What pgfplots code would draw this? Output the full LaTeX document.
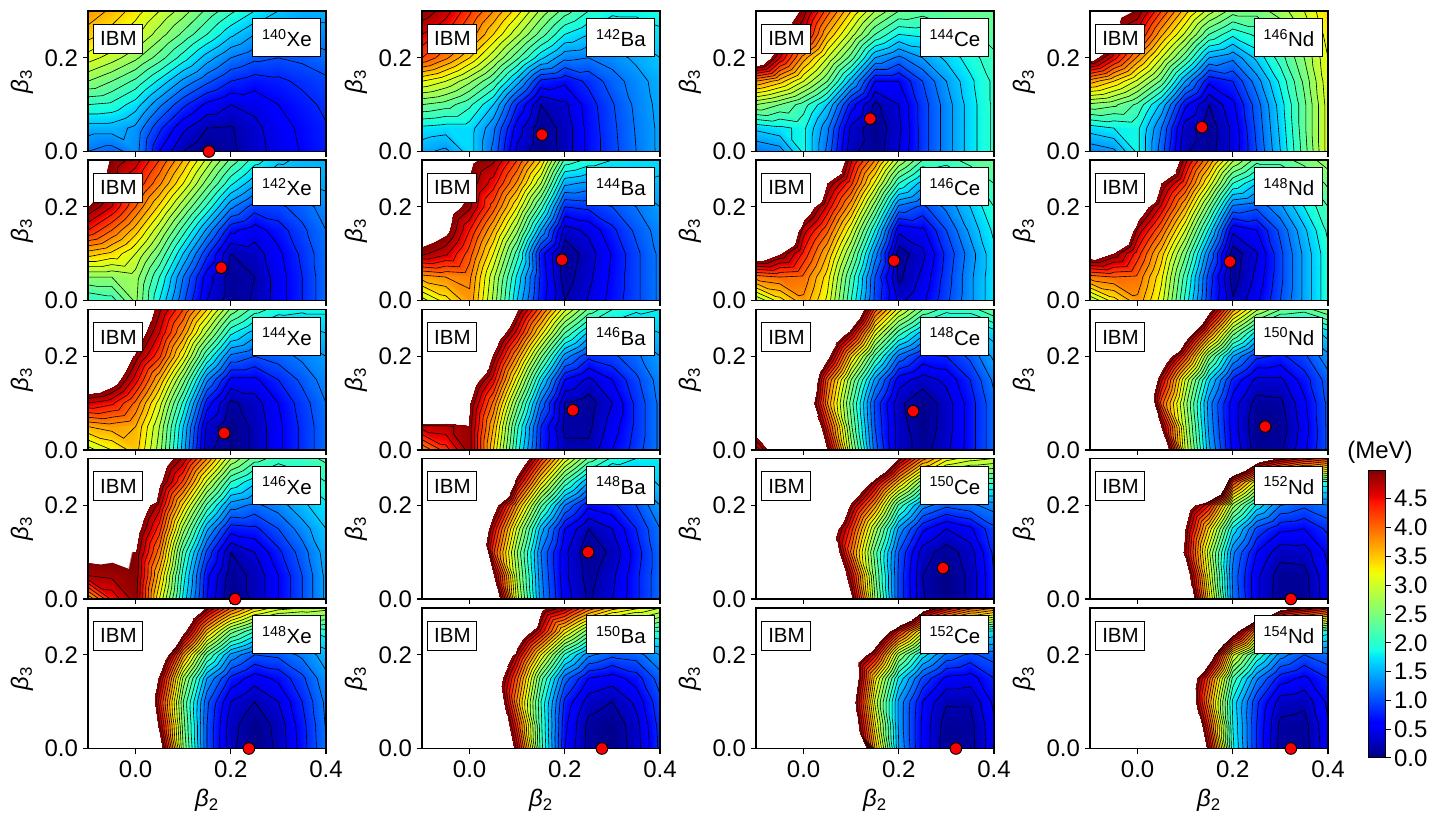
\documentclass[border=0pt]{standalone}
\usepackage{fontspec}
\setmainfont{Liberation Sans}
\usepackage{pgfplots}
\pgfplotsset{compat=1.18}
\newcommand\tfs{\fontsize{24}{28}\selectfont}
\newcommand\bfs{\fontsize{20.5}{24}\selectfont}
\tikzset{lab/.style={draw=black, line width=1pt, fill=white, inner sep=0pt, font=\bfs}}
% jet over 0..5 MeV, white above
\pgfplotsset{
  colormap={jetw}{rgb(0pt)=(0,0,.5); rgb(55pt)=(0,0,1); rgb(62.5pt)=(0,0,1); rgb(170pt)=(0,.86,1);
    rgb(175pt)=(0,.9,.97); rgb(187.5pt)=(.08,1,.89); rgb(320pt)=(.935,1,.03); rgb(325pt)=(.97,.96,0);
    rgb(330pt)=(1,.93,0); rgb(445pt)=(1,.07,0); rgb(455pt)=(.91,0,0); rgb(500pt)=(.5,0,0);
    rgb(501pt)=(1,1,1); rgb(1000pt)=(1,1,1)},
  colormap name=jetw,
  base/.style={scale only axis, width=238pt, height=140.5pt, xmin=-.1, xmax=.4, ymin=0, ymax=.3,
    anchor=south west},
  panel/.style={base, axis on top, axis line style={line width=1.2pt},
    xtick={0,.2,.4}, ytick={0,.2}, yticklabels={0.0,0.2}, xticklabels={},
    tick align=outside, xtick pos=bottom, ytick pos=left,
    major tick length=5.5pt, tick style={black, line width=1.2pt},
    tick label style={font=\tfs}, xticklabel style={yshift=-3pt}, yticklabel style={xshift=-1pt},
    ylabel={\textit{β}\textsubscript{3}},
    every axis y label/.style={at={(rel axis cs:0,.5)}, xshift=-66pt, rotate=90, anchor=center, font=\tfs},
    point meta min=0, point meta max=10, unbounded coords=jump,
    filter discard warning=false},
  bottomrow/.style={xticklabels={0.0,0.2,0.4}, xlabel={\textit{β}\textsubscript{2}},
    every axis x label/.style={at={(rel axis cs:.5,0)}, yshift=-52pt, anchor=center, font=\tfs}},
}
\makeatletter
\newcount\gi \newcount\gj \newcount\gk \newcount\gn
% the grid: 7 rows (beta3 = 0 ... 0.3) of 11 values (beta2 = -0.1 ... 0.4), in MeV
\def\readgrid#1{\gn=0 \@for\v:=#1\do{\expandafter\xdef\csname zz\the\gn\endcsname{\number\dimexpr\v pt\relax}\global\advance\gn1 }}
\def\zv#1#2{\csname zz\number\numexpr#2*11+#1\endcsname}
\def\buildsurf{\def\surfS{}\gj=0 \surfrow}
\def\surfrow{\ifnum\gj<7 \gi=0 \surfcol \advance\gj1 \expandafter\surfrow\fi}
\def\surfcol{\ifnum\gi<11
  \edef\surfS{\surfS(\strip@pt\dimexpr\numexpr3277*\gi-6554\relax sp\relax,\strip@pt\dimexpr\numexpr3277*\gj\relax sp\relax) [\strip@pt\dimexpr\zv\gi\gj sp\relax] }%
  \advance\gi1 \expandafter\surfcol\fi}
% contour levels every 0.2 MeV, found on two triangles per grid cell
\def\cross#1#2#3#4#5#6{\edef\tS{\tS(\strip@pt\dimexpr\numexpr#2+(#5-#2)*(\L-#1)/(#4-#1)\relax sp\relax,\strip@pt\dimexpr\numexpr#3+(#6-#3)*(\L-#1)/(#4-#1)\relax sp\relax) }}
\def\edge#1#2#3#4#5#6{\ifnum#1>\L\relax\ifnum#4>\L\relax\else\cross{#1}{#2}{#3}{#4}{#5}{#6}\fi\else\ifnum#4>\L\relax\cross{#1}{#2}{#3}{#4}{#5}{#6}\fi\fi}
\def\tri#1#2#3#4#5#6#7#8#9{\def\tS{}\edge{#1}{#2}{#3}{#4}{#5}{#6}\edge{#4}{#5}{#6}{#7}{#8}{#9}\edge{#7}{#8}{#9}{#1}{#2}{#3}%
  \ifx\tS\empty\else\edef\cellS{\cellS\tS(nan,nan) }\fi}
\def\levels{\ifnum\gk<25 \edef\L{\number\dimexpr.2pt*\gk\relax}%
  \tri\va\xo\yo\vb\xp\yo\vc\xo\yp
  \tri\vb\xp\yo\vd\xp\yp\vc\xo\yp
  \advance\gk1 \expandafter\levels\fi}
\def\cells{\ifnum\gi<10
  \edef\va{\zv{\gi}{\gj}}\edef\vb{\zv{\numexpr\gi+1\relax}{\gj}}\edef\vc{\zv{\gi}{\numexpr\gj+1\relax}}\edef\vd{\zv{\numexpr\gi+1\relax}{\numexpr\gj+1\relax}}%
  \edef\xo{\number\numexpr3277*\gi-6554\relax}\edef\xp{\number\numexpr3277*\gi-3277\relax}%
  \def\cellS{}\gk=1 \levels \edef\rowS{\rowS\cellS}%
  \advance\gi1 \expandafter\cells\fi}
\def\rowsl{\ifnum\gj<6 \edef\yo{\number\numexpr3277*\gj\relax}\edef\yp{\number\numexpr3277*\gj+3277\relax}%
  \def\rowS{}\gi=0 \cells \edef\contS{\contS\rowS}\advance\gj1 \expandafter\rowsl\fi}
\def\buildcont{\def\contS{}\gj=0 \rowsl}
\makeatother
% x, y of the axis corner, mass number, element, minimum, grid
\newcommand\panel[6]{%
  \readgrid{#6}\buildsurf\buildcont
  \ifdim#2pt<100pt \pgfplotsset{thisrow/.style={bottomrow}}\else\pgfplotsset{thisrow/.style={}}\fi
  \begin{axis}[panel, at={(#1pt,#2pt)}, thisrow]
    \edef\next{\noexpand\addplot[surf, shader=interp, mesh/rows=7, point meta=explicit, forget plot] coordinates {\surfS};}\next
    \edef\next{\noexpand\addplot[black, line width=.6pt, no markers, forget plot] coordinates {\contS};}\next
  \end{axis}
  \begin{axis}[base, at={(#1pt,#2pt)}, hide axis, clip=false]
    \addplot[only marks, mark=*, mark size=5.8pt, mark options={fill=red, draw=black, line width=1pt}] coordinates {(#5)};
    \node[lab, minimum width=49pt, minimum height=29pt] at (rel axis cs:.128,.804) {IBM};
    \node[lab, minimum width=68pt, minimum height=38pt] at (rel axis cs:.836,.808) {\textsuperscript{#3}#4};
  \end{axis}}
\begin{document}
\begin{tikzpicture}[x=1pt,y=1pt]
\useasboundingbox (0,0) rectangle (1438,825);
\panel{88}{673.5}{140}{Xe}{.154,0}{
1.2,1.1,1.3,.6,.2,.02,.15,.33,.47,.62,.75,
1.5,1.5,1.35,.85,.45,.2,.18,.35,.5,.65,.78,
2.0,1.95,1.7,1.25,.85,.55,.4,.45,.6,.72,.85,
2.6,2.4,2.15,1.75,1.35,1.05,.8,.7,.75,.85,.95,
3.1,2.9,2.65,2.3,1.9,1.5,1.2,1.05,1.0,1.05,1.15,
3.5,3.3,3.05,2.7,2.35,2.0,1.65,1.4,1.25,1.25,1.3,
3.75,3.55,3.3,3.0,2.7,2.35,2.05,1.8,1.6,1.5,1.5}
\panel{422}{673.5}{142}{Ba}{.152,.036}{
1.45,1.35,1.7,1.15,.35,.05,.27,.67,.93,1.2,1.45,
1.75,1.7,1.7,1.25,.5,.07,.27,.67,.95,1.22,1.45,
2.4,2.3,2.05,1.6,.8,.2,.35,.7,.98,1.25,1.47,
3.2,3.0,2.65,2.2,1.5,.75,.65,.85,1.1,1.3,1.5,
4.2,3.85,3.4,2.85,2.25,1.65,1.25,1.2,1.3,1.45,1.6,
4.6,4.4,3.95,3.4,2.85,2.3,1.8,1.6,1.6,1.65,1.75,
4.95,4.7,4.25,3.8,3.3,2.75,2.3,2.0,1.85,1.85,1.9}
\panel{756}{673.5}{144}{Ce}{.14,.07}{
1.2,1.3,1.85,1.15,.25,.08,.4,.9,1.3,1.7,2.05,
1.65,1.75,1.85,1.25,.35,.05,.35,.9,1.3,1.7,2.05,
2.6,2.4,2.1,1.6,.7,.15,.4,.9,1.3,1.7,2.05,
3.8,3.5,3.0,2.4,1.5,.6,.6,1.0,1.4,1.75,2.05,
5.6,4.6,3.7,3.0,2.3,1.4,1.15,1.4,1.65,1.9,2.15,
6.3,5.1,4.6,3.6,2.9,2.2,1.8,1.85,2.0,2.15,2.3,
6.5,5.4,4.9,4.1,3.4,2.8,2.4,2.3,2.35,2.4,2.35}
\panel{1090}{673.5}{146}{Nd}{.135,.052}{
1.25,1.35,1.85,1.1,.22,.1,.45,1.0,1.6,2.3,3.1,
1.7,1.8,1.85,1.2,.3,.07,.45,1.05,1.65,2.35,3.1,
2.55,2.45,2.15,1.55,.65,.2,.55,1.1,1.7,2.35,3.1,
3.7,3.4,2.95,2.35,1.4,.65,.8,1.3,1.85,2.45,3.15,
5.2,4.5,3.75,3.0,2.25,1.4,1.25,1.65,2.1,2.6,3.2,
6.2,5.1,4.5,3.65,2.95,2.2,1.85,2.05,2.4,2.8,3.3,
6.4,5.2,4.95,4.2,3.5,2.9,2.5,2.5,2.7,3.0,3.4}
\panel{88}{524.5}{142}{Xe}{.18,.07}{
2.0,2.1,2.65,1.8,1.05,.4,.1,.22,.5,.8,1.15,
2.6,2.6,2.7,2.0,1.2,.5,.1,.2,.5,.8,1.15,
3.5,3.35,3.0,2.4,1.6,.85,.2,.3,.55,.85,1.15,
4.4,4.0,3.5,2.85,2.1,1.35,.65,.5,.7,.95,1.2,
5.0,4.6,4.0,3.35,2.65,1.95,1.25,.9,.95,1.1,1.3,
5.35,4.85,4.4,3.85,3.2,2.5,1.85,1.45,1.35,1.4,1.45,
5.4,4.95,4.7,4.2,3.6,2.95,2.35,1.9,1.65,1.55,1.5}
\panel{422}{524.5}{144}{Ba}{.194,.087}{
2.9,3.3,3.75,2.75,1.6,.7,.2,.42,.68,.95,1.25,
3.7,3.8,3.85,2.85,1.75,.75,.1,.35,.65,.95,1.25,
4.85,4.65,4.1,3.2,2.1,.7,.05,.3,.62,.95,1.25,
5.35,5.1,4.4,3.6,2.65,1.4,.3,.45,.75,1.05,1.3,
6.5,5.25,4.85,4.1,3.2,2.1,.8,.85,1.0,1.2,1.4,
7.5,5.5,4.95,4.5,3.75,2.8,1.45,1.35,1.35,1.45,1.55,
8.5,5.6,5.08,4.85,4.2,3.4,2.15,1.95,1.8,1.75,1.7}
\panel{756}{524.5}{146}{Ce}{.19,.085}{
2.8,3.3,3.75,3.15,2.0,.95,.35,.55,.95,1.35,1.75,
3.9,4.0,3.95,3.3,2.15,1.0,.15,.45,.9,1.35,1.75,
5.4,5.0,4.35,3.6,2.55,1.3,.08,.35,.85,1.3,1.75,
6.8,6.0,4.7,4.05,3.05,1.8,.45,.55,1.0,1.45,1.85,
8,7,5.35,4.55,3.65,2.45,1.15,.95,1.25,1.6,2.0,
9,8,6.5,5.0,4.25,3.15,2.0,1.5,1.65,1.9,2.2,
9,9,8,6,4.65,3.8,2.8,2.2,2.1,2.3,2.4}
\panel{1090}{524.5}{148}{Nd}{.194,.083}{
2.8,3.3,3.75,3.1,1.95,.85,.22,.55,1.0,1.45,1.95,
3.9,4.0,3.95,3.25,2.1,.9,.1,.45,.95,1.45,1.95,
5.3,4.95,4.3,3.5,2.45,1.2,.08,.38,.95,1.45,1.95,
6.8,6.0,4.75,4.0,3.0,1.75,.45,.6,1.05,1.55,2.05,
8,7,5.35,4.55,3.6,2.4,1.15,1.05,1.35,1.8,2.2,
9,8,6.5,5.0,4.25,3.15,2.0,1.6,1.8,2.1,2.45,
9,9,8,6,4.7,3.8,2.85,2.3,2.3,2.5,2.7}
\panel{88}{375}{144}{Xe}{.186,.036}{
2.9,3.2,3.5,2.7,1.5,.25,.05,.25,.55,.85,1.15,
3.6,3.7,3.6,2.8,1.6,.35,.03,.25,.55,.85,1.15,
4.6,4.45,3.95,3.1,1.95,.7,.15,.3,.6,.9,1.2,
5.6,5.24,4.5,3.6,2.5,1.25,.55,.55,.8,1.05,1.3,
6.5,5.7,4.9,4.25,3.2,2.0,1.15,1.0,1.1,1.25,1.4,
7.5,6.6,5.28,4.6,3.75,2.75,1.85,1.5,1.45,1.5,1.6,
8.5,7.5,5.6,4.85,4.2,3.4,2.55,2.1,1.9,1.85,1.85}
\panel{422}{375}{146}{Ba}{.217,.085}{
3.8,4.3,4.9,3.4,1.9,.75,.25,.25,.6,.9,1.25,
4.7,4.75,4.9,3.6,2.05,.8,.15,.15,.5,.85,1.25,
6.6,6.3,5.0,3.95,2.5,1.15,.2,.1,.4,.85,1.25,
7.5,6.5,5.33,4.5,3.1,1.7,.6,.35,.6,.95,1.3,
8.5,7.5,6.2,4.95,3.75,2.45,1.3,.85,.95,1.15,1.4,
9,8.5,7.2,5.5,4.5,3.3,2.2,1.55,1.4,1.45,1.6,
9,9,8,6.2,5.05,4.05,3.05,2.35,2.0,1.85,1.8}
\panel{756}{375}{148}{Ce}{.23,.083}{
4.4,5.6,7.3,5.0,2.7,1.1,.3,.12,.35,.7,1.15,
5.4,6.2,6.7,4.4,2.45,1.0,.3,.05,.3,.7,1.15,
7,7,5.87,3.8,2.3,.95,.25,.05,.3,.7,1.15,
8,7.5,6.3,4.05,2.6,1.35,.5,.3,.45,.8,1.25,
9,8.5,7,5.17,3.45,2.15,1.15,.75,.8,1.05,1.45,
9,9,8,6,4.75,3.1,2.1,1.5,1.35,1.5,1.7,
9,9,9,8,6.05,4.1,3.1,2.4,2.1,2.1,2.4}
\panel{1090}{375}{150}{Nd}{.268,.05}{
9,9,8,5.94,3.0,1.45,.55,.1,.15,.55,1.05,
9,9,7.1,5.0,2.85,1.35,.5,.05,.08,.5,1.05,
9,9,7.1,4.1,2.7,1.3,.5,.12,.15,.55,1.05,
9,9,6.8,4.65,3.0,1.65,.75,.35,.35,.7,1.1,
9,9,7.5,5.63,4.2,2.5,1.4,.85,.75,.95,1.35,
9,9,9,7.5,5.47,3.9,2.5,1.7,1.4,1.4,1.7,
9,9,9,9,7.2,5.2,3.7,2.85,2.4,2.3,2.6}
\panel{88}{226}{146}{Xe}{.209,0}{
3.6,4.45,4.9,3.2,1.75,.6,.03,.25,.6,1.0,1.45,
4.8,4.85,4.95,3.5,1.9,.65,.1,.25,.6,1.0,1.45,
5.16,5.12,4.98,3.9,2.15,.95,.2,.4,.75,1.1,1.5,
7,6.5,5.17,4.3,2.7,1.45,.7,.75,1.0,1.3,1.6,
9,7.5,5.45,4.7,3.35,2.15,1.3,1.15,1.3,1.55,1.75,
9,9,7,5.1,4.15,2.95,2.0,1.65,1.65,1.8,2.0,
9,9,7,5.4,4.75,3.8,2.8,2.3,2.1,2.1,2.25}
\panel{422}{226}{148}{Ba}{.249,.1}{
9,9,8,5.82,2.9,1.3,.5,.17,.4,.75,1.15,
9,9,7.5,5.09,2.75,1.25,.45,.12,.35,.75,1.15,
9,9,7.5,4.25,2.6,1.2,.45,.05,.25,.7,1.15,
9,9,6.6,4.6,2.95,1.5,.6,.2,.4,.8,1.2,
9,9,7.5,5.33,3.7,2.25,1.2,.65,.75,1.0,1.4,
9,9,9,7.2,4.75,3.3,2.15,1.4,1.25,1.4,1.65,
9,9,9,7.7,5.7,4.3,3.15,2.35,1.95,1.8,1.8}
\panel{756}{226}{150}{Ce}{.293,.066}{
9,9,9,7.5,5.1,2.6,.95,.22,.04,.25,.8,
9,9,9,6.4,4.65,2.45,.95,.2,.02,.25,.8,
9,9,9,6.05,3.95,2.3,1.0,.3,.1,.3,.85,
9,9,9,5.6,4.3,2.75,1.35,.65,.4,.55,.95,
9,9,9,6.5,4.9,3.7,2.15,1.3,1.05,1.15,1.3,
9,9,9,9,6,4.75,3.5,2.45,2.2,2.05,2.05,
9,9,9,9,9,6.5,4.95,3.9,3.3,3.1,3.0}
\panel{1090}{226}{152}{Nd}{.322,0}{
9,9,9,8,6.04,3.3,1.2,.45,.08,.1,.55,
9,9,9,7.5,5.49,3.05,1.15,.45,.1,.12,.58,
9,9,9,6.5,4.85,2.85,1.25,.6,.28,.3,.65,
9,9,9,7,5.0,3.35,1.75,.95,.65,.6,.85,
9,9,9,7.5,5.4,4.4,2.7,1.75,1.2,1.05,1.2,
9,9,9,9,9,7.3,4.2,3.05,2.3,1.95,1.95,
9,9,9,9,9,9,7,5.45,4.95,4.55,4.3}
\panel{88}{76.5}{148}{Xe}{.238,0}{
9,9,7.5,5.39,2.6,1.0,.25,.03,.25,.7,1.2,
9,9,7,4.85,2.5,1.0,.28,.05,.27,.72,1.22,
9,9,7,4.5,2.4,1.05,.4,.2,.4,.8,1.25,
9,9,7,4.9,2.75,1.4,.75,.5,.65,.95,1.35,
9,9,8,5.73,3.7,2.25,1.35,1.0,1.05,1.25,1.5,
9,9,9,7.5,5.17,3.5,2.5,2.0,1.8,1.75,1.9,
9,9,9,9,6.15,4.9,4.0,3.4,3.1,3.0,2.9}
\panel{422}{76.5}{150}{Ba}{.278,0}{
9,9,9,7.2,4.7,2.1,.6,.12,.03,.3,.85,
9,9,9,6.46,4.25,2.05,.65,.14,.05,.32,.88,
9,9,9,5.98,3.75,2.0,.75,.3,.2,.45,.95,
9,9,9,5.63,4.05,2.3,1.1,.6,.5,.7,1.1,
9,9,9,6.2,4.7,3.2,1.95,1.25,1.05,1.1,1.4,
9,9,9,9,5.68,4.55,3.3,2.45,2.0,1.9,2.0,
9,9,9,9,7,5.12,4.7,3.95,3.5,3.25,3.0}
\panel{756}{76.5}{152}{Ce}{.32,0}{
9,9,9,9,7.7,3.6,1.4,.55,.07,.12,.55,
9,9,9,8,5.75,3.25,1.35,.55,.1,.13,.57,
9,9,9,7.5,5.4,2.95,1.35,.6,.22,.22,.65,
9,9,9,7.5,5.73,3.3,1.75,.95,.55,.5,.8,
9,9,9,8,5.75,4.5,2.65,1.7,1.15,.95,1.1,
9,9,9,9,8,5.98,4.35,3.1,2.3,1.85,1.75,
9,9,9,9,9,9,7,5.27,4.6,4.1,3.8}
\panel{1090}{76.5}{154}{Nd}{.322,0}{
9,9,9,9,7.25,4.75,1.85,.8,.12,.1,.55,
9,9,9,9,6.75,4.25,1.8,.8,.15,.12,.58,
9,9,9,8,5.98,3.75,1.75,.85,.3,.25,.65,
9,9,9,8,5.9,4.1,2.15,1.25,.7,.55,.8,
9,9,9,9,7.5,5.49,3.05,2.0,1.3,1.0,1.15,
9,9,9,9,9,7.5,5.35,3.6,2.6,2.05,1.9,
9,9,9,9,9,9,8,6.5,5.22,4.85,4.5}
% colour bar
\begin{axis}[scale only axis, width=17pt, height=288pt, at={(1368pt,67pt)}, anchor=south west,
  xmin=0, xmax=1, ymin=0, ymax=5, axis on top, axis line style={line width=1pt},
  xtick=\empty, ytick={0,.5,...,4.5}, yticklabels={0.0,0.5,1.0,1.5,2.0,2.5,3.0,3.5,4.0,4.5},
  ytick pos=right, yticklabel pos=right, tick align=outside, major tick length=5.5pt,
  tick style={black, line width=1pt}, tick label style={font=\tfs},
  point meta min=0, point meta max=10]
  \addplot[surf, shader=interp, mesh/rows=2, point meta=explicit] coordinates {
    (0,0) [0] (1,0) [0]
    (0,5) [4.995] (1,5) [4.995]};
\end{axis}
\node[font=\tfs] at (1380,373) {(MeV)};
\end{tikzpicture}
\end{document}
